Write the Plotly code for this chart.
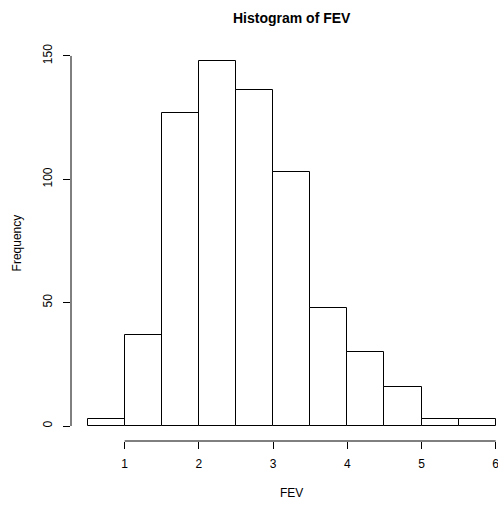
import plotly.graph_objects as go

# Histogram of FEV: class breaks and counts per class
breaks = [0.5, 1.0, 1.5, 2.0, 2.5, 3.0, 3.5, 4.0, 4.5, 5.0, 5.5, 6.0]
counts = [3, 37, 127, 148, 136, 103, 48, 30, 16, 3, 3]
x_ticks = [1, 2, 3, 4, 5, 6]
y_ticks = [0, 50, 100, 150]

mids = [(a + b) / 2 for a, b in zip(breaks[:-1], breaks[1:])]
widths = [b - a for a, b in zip(breaks[:-1], breaks[1:])]

FONT = "Liberation Sans, Arial, Helvetica, sans-serif"

fig = go.Figure(
    go.Bar(
        x=mids,
        y=counts,
        width=widths,
        marker=dict(color="white", line=dict(color="black", width=1)),
        hoverinfo="x+y",
    )
)

fig.update_layout(
    width=498,
    height=505,
    margin=dict(l=71, r=0, t=46, b=64),
    paper_bgcolor="white",
    plot_bgcolor="white",
    showlegend=False,
    font=dict(family=FONT, size=12, color="black"),
    bargap=0,
)

fig.update_xaxes(
    range=[0.2763, 6.031],
    tickmode="array",
    tickvals=x_ticks,
    ticktext=[str(v) for v in x_ticks],
    ticks="outside",
    ticklen=7,
    tickwidth=1,
    tickcolor="black",
    ticklabelstandoff=5,
    ticklabeloverflow="allow",
    showgrid=False,
    zeroline=False,
    showline=False,
    tickfont=dict(family=FONT, size=12, color="black"),
)
fig.update_yaxes(
    range=[-6.08, 154.03],
    tickmode="array",
    tickvals=y_ticks,
    ticktext=[str(v) for v in y_ticks],
    ticks="outside",
    ticklen=7,
    tickwidth=1,
    tickcolor="black",
    tickangle=-90,
    ticklabelstandoff=6,
    showgrid=False,
    zeroline=False,
    showline=False,
    tickfont=dict(family=FONT, size=12, color="black"),
)

# R-style axis lines spanning only the tick range
fig.add_shape(type="line", xref="x", yref="paper", x0=x_ticks[0], x1=x_ticks[-1],
              y0=0, y1=0, line=dict(color="black", width=1))
fig.add_shape(type="line", xref="paper", yref="y", x0=0, x1=0,
              y0=y_ticks[0], y1=y_ticks[-1], line=dict(color="black", width=1))

# Title and axis labels
fig.add_annotation(text="<b>Histogram of FEV</b>", xref="x", yref="paper",
                   x=3.25, y=1, yshift=38, showarrow=False,
                   font=dict(family=FONT, size=14, color="black"))
fig.add_annotation(text="FEV", xref="x", yref="paper", x=3.25, y=0, yshift=-61,
                   showarrow=False, font=dict(family=FONT, size=12, color="black"))
fig.add_annotation(text="Frequency", xref="paper", yref="y", x=0, y=74,
                   xshift=-63, textangle=-90, showarrow=False,
                   font=dict(family=FONT, size=12, color="black"))

fig.write_html("out.html")
